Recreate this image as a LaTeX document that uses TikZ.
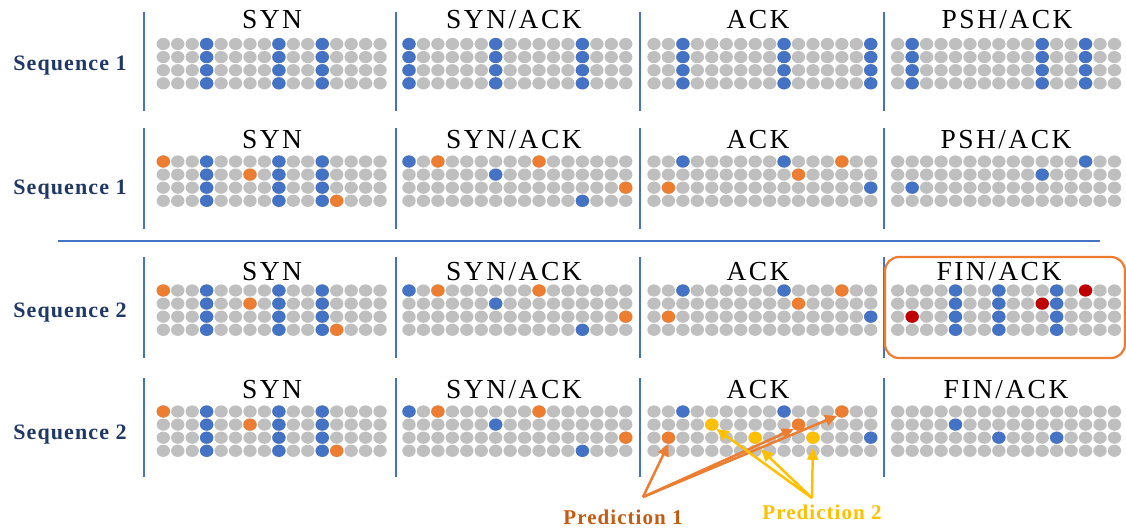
\documentclass[tikz,border=0pt]{standalone}
\usepackage{fontspec}
\setmainfont{Liberation Serif}
\usetikzlibrary{arrows.meta,shapes.geometric}

\definecolor{dotgray}{HTML}{BFBFBF}
\definecolor{dotblue}{HTML}{4472C4}
\definecolor{dotorange}{HTML}{ED7D31}
\definecolor{dotred}{HTML}{C00000}
\definecolor{dotyellow}{HTML}{FFC000}
\definecolor{seqnavy}{HTML}{1F3864}
\definecolor{predbrown}{HTML}{C55A11}
\definecolor{ruleblue}{HTML}{4472C4}

% 16 x 4 grid of grey bits; nodes are named <grid>-<column>-<row>
\newcommand\dotgrid[3]{%
  \foreach \ci in {0,...,15}{\foreach \ri in {0,...,3}{
    \node[gdot] (#1-\ci-\ri) at ({#2+\ci*14.45},{#3+\ri*13.1}) {};}}}
% colour one bit of a grid; the coloured node is named <grid>-<column>-<row>c
\newcommand\paintdot[4]{\node[#4] (#1-#2-#3c) at (#1-#2-#3) {};}
% colour a whole column of a grid
\newcommand\paintcol[3]{\foreach \ri in {0,...,3}{\paintdot{#1}{#2}{\ri}{#3}}}

\tikzset{
  gdot/.style={ellipse, draw=none, fill=dotgray, minimum width=13.4pt,
    minimum height=12.2pt, inner sep=0pt, outer sep=0pt},
  bdot/.style={gdot, fill=dotblue},
  odot/.style={gdot, fill=dotorange},
  rdot/.style={gdot, fill=dotred},
  ydot/.style={gdot, fill=dotyellow},
  pktitle/.style={font=\fontsize{27.5}{30}\selectfont\addfontfeature{LetterSpace=9},
    anchor=base, inner sep=0pt},
  seqlabel/.style={font=\fontsize{22}{26}\selectfont\bfseries\addfontfeature{LetterSpace=5},
    text=seqnavy, anchor=base, inner sep=0pt},
  predlabel/.style={font=\fontsize{21}{24}\selectfont\bfseries\addfontfeature{LetterSpace=5},
    anchor=base, inner sep=0pt},
  divider/.style={draw=ruleblue, line width=1.8pt},
  parrow/.style={line width=2.5pt, -{Triangle[length=12pt,width=11pt]}},
}

\begin{document}
\begin{tikzpicture}[x=1pt, y=-1pt]
\fill[white] (0,0) rectangle (1126,530);
\useasboundingbox (0,0) rectangle (1126,530);

% rows: dot top y / title baseline / divider extent / label baseline / sequence
\foreach \row/\yd/\yt/\ya/\yb/\yl/\seq in
  {1/44/28/12/111/70.5/1, 2/161.5/148.3/128/229/194/1,
   3/290.5/280/257/358/317/2, 4/411.5/398.5/378/477/439/2}{
  \node[seqlabel] (seq\row) at (70,\yl) {Sequence \seq};
  \foreach \xd in {144,396,640,884}{\draw[divider] (\xd,\ya) -- (\xd,\yb);}
  \dotgrid{r\row p1}{163.3}{\yd}
  \dotgrid{r\row p2}{409}{\yd}
  \dotgrid{r\row p3}{654}{\yd}
  \dotgrid{r\row p4}{897.7}{\yd}
  \node[pktitle] (t\row a) at (272,\yt) {SYN};
  \node[pktitle] (t\row b) at (514,\yt) {SYN/ACK};
  \node[pktitle] (t\row c) at (758,\yt) {ACK};
}
\node[pktitle] (t1d) at (1007,28) {PSH/ACK};
\node[pktitle] (t2d) at (1006,148.3) {PSH/ACK};
\node[pktitle] (t3d) at (999,280) {FIN/ACK};
\node[pktitle] (t4d) at (1006,398.5) {FIN/ACK};

% separator between the two sequences
\coordinate (sepL) at (58,241);
\coordinate (sepR) at (1100,241);
\draw[ruleblue, line width=1.2pt] (sepL) -- (sepR);

% row 1: plain handshake
\foreach \k in {3,8,11}{\paintcol{r1p1}{\k}{bdot}}
\foreach \k in {0,6,12}{\paintcol{r1p2}{\k}{bdot}}
\foreach \k in {2,9,15}{\paintcol{r1p3}{\k}{bdot}}
\foreach \k in {1,10,13}{\paintcol{r1p4}{\k}{bdot}}

% rows 2-4: SYN, SYN/ACK, ACK
\foreach \row in {2,3,4}{
  \foreach \k in {3,8,11}{\paintcol{r\row p1}{\k}{bdot}}
  \paintdot{r\row p1}{0}{0}{odot}
  \paintdot{r\row p1}{6}{1}{odot}
  \paintdot{r\row p1}{12}{3}{odot}
  \paintdot{r\row p2}{0}{0}{bdot}
  \paintdot{r\row p2}{6}{1}{bdot}
  \paintdot{r\row p2}{12}{3}{bdot}
  \paintdot{r\row p2}{2}{0}{odot}
  \paintdot{r\row p2}{9}{0}{odot}
  \paintdot{r\row p2}{15}{2}{odot}
  \paintdot{r\row p3}{2}{0}{bdot}
  \paintdot{r\row p3}{9}{0}{bdot}
  \paintdot{r\row p3}{15}{2}{bdot}
  \paintdot{r\row p3}{13}{0}{odot}
  \paintdot{r\row p3}{10}{1}{odot}
  \paintdot{r\row p3}{1}{2}{odot}
}
% row 2: PSH/ACK
\paintdot{r2p4}{13}{0}{bdot}
\paintdot{r2p4}{10}{1}{bdot}
\paintdot{r2p4}{1}{2}{bdot}
% row 3: FIN/ACK with anomalous bits
\foreach \k in {4,7,11}{\paintcol{r3p4}{\k}{bdot}}
\paintdot{r3p4}{13}{0}{rdot}
\paintdot{r3p4}{10}{1}{rdot}
\paintdot{r3p4}{1}{2}{rdot}
\draw[dotorange, line width=2.2pt, rounded corners=14pt] (885,257) rectangle (1125,358);
% row 4: predicted bits and FIN/ACK
\paintdot{r4p3}{4}{1}{ydot}
\paintdot{r4p3}{7}{2}{ydot}
\paintdot{r4p3}{11}{2}{ydot}
\paintdot{r4p4}{4}{1}{bdot}
\paintdot{r4p4}{7}{2}{bdot}
\paintdot{r4p4}{11}{2}{bdot}

% predictions
\node[predlabel, text=predbrown] (pred1) at (623,524) {Prediction 1};
\node[predlabel, text=dotyellow] (pred2) at (822,519.5) {Prediction 2};
\coordinate (src1) at (643,497);
\coordinate (src2) at (812,498);
\draw[parrow, dotorange] (src1) -- (r4p3-1-2c.south);
\draw[parrow, dotorange] (src1) -- (r4p3-10-1c.south west);
\draw[parrow, dotorange] (src1) -- (r4p3-13-0c.south west);
\draw[parrow, dotyellow] (src2) -- (r4p3-4-1c.south east);
\draw[parrow, dotyellow, shorten >=8pt] (src2) -- (r4p3-7-2c.south);
\draw[parrow, dotyellow, shorten >=4pt] (src2) -- (r4p3-11-2c.south);
\end{tikzpicture}
\end{document}
